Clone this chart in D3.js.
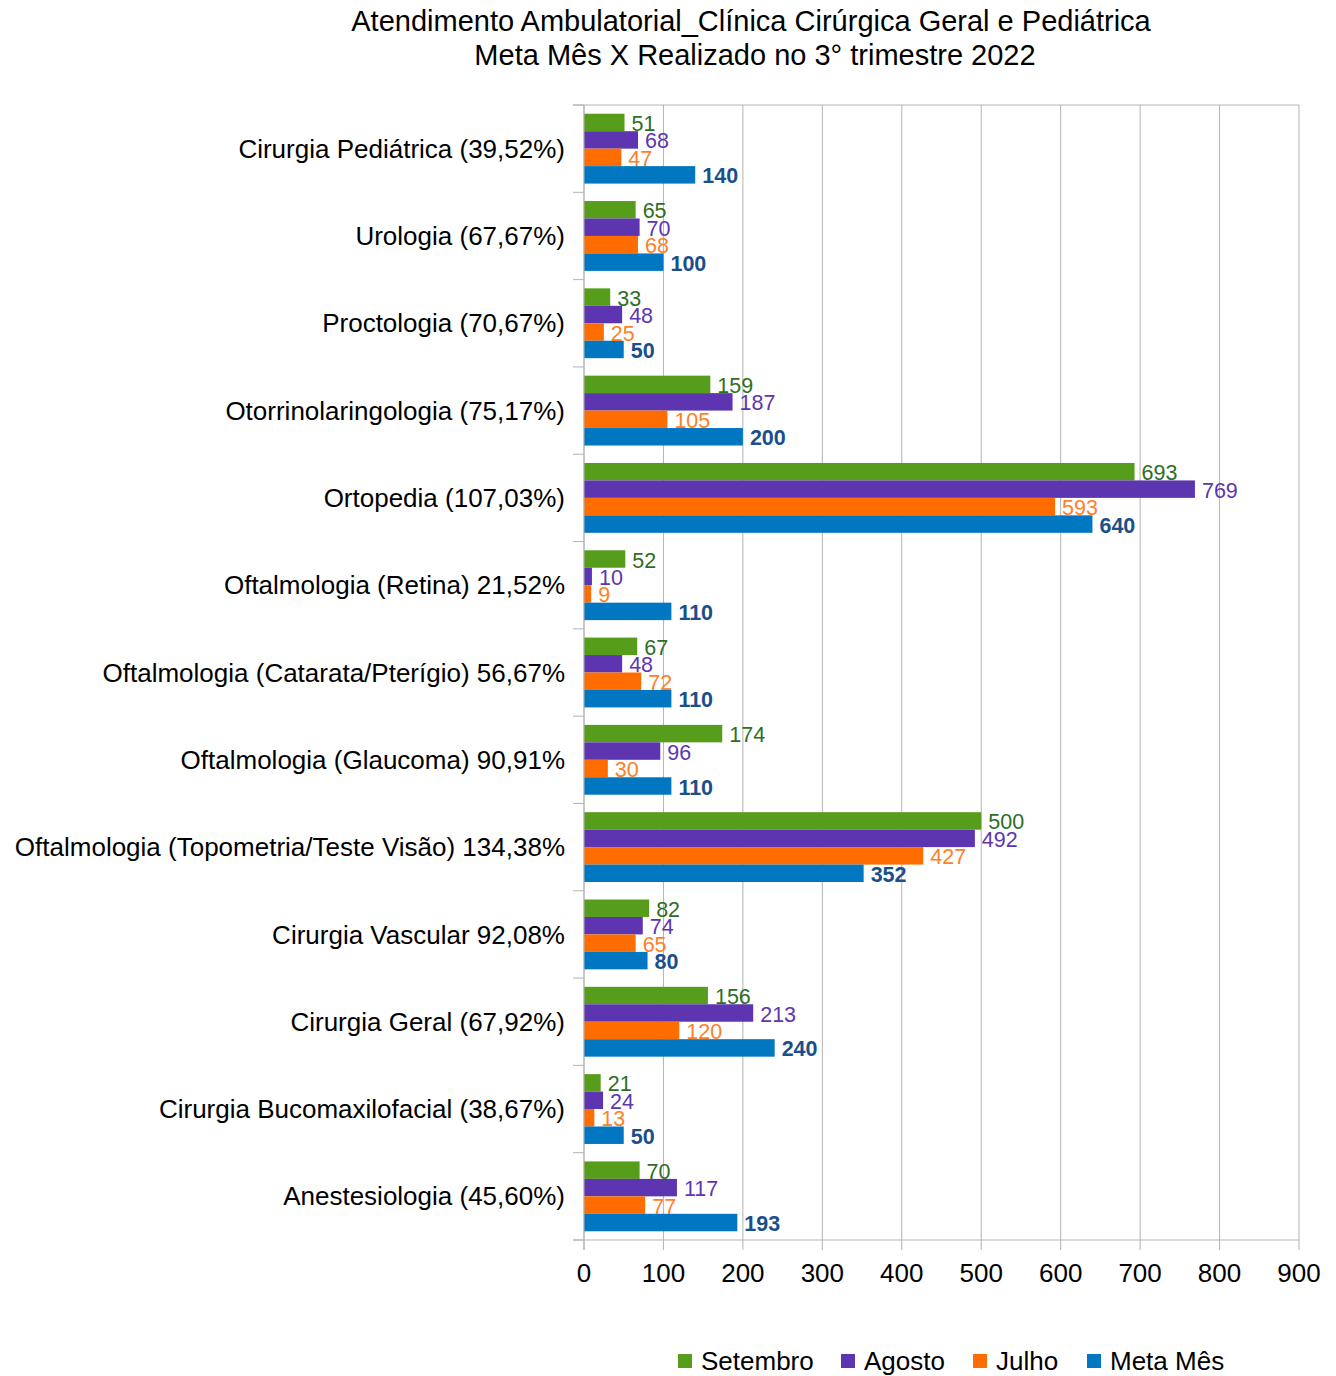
<!DOCTYPE html>
<html>
<head>
<meta charset="utf-8">
<script src="https://cdn.jsdelivr.net/npm/d3@7"></script>
<style>
  body { margin: 0; background: #fff; }
  svg { font-family: "Liberation Sans", Arial, sans-serif; }
</style>
</head>
<body>
<svg id="chart" width="1336" height="1376"></svg>
<script>
// categories top to bottom
const categories = [
  "Cirurgia Pediátrica (39,52%)",
  "Urologia (67,67%)",
  "Proctologia (70,67%)",
  "Otorrinolaringologia (75,17%)",
  "Ortopedia (107,03%)",
  "Oftalmologia (Retina) 21,52%",
  "Oftalmologia (Catarata/Pterígio) 56,67%",
  "Oftalmologia (Glaucoma) 90,91%",
  "Oftalmologia (Topometria/Teste Visão) 134,38%",
  "Cirurgia Vascular 92,08%",
  "Cirurgia Geral (67,92%)",
  "Cirurgia Bucomaxilofacial (38,67%)",
  "Anestesiologia (45,60%)"
];

const setembro = [51, 65, 33, 159, 693, 52, 67, 174, 500, 82, 156, 21, 70];
const agosto   = [68, 70, 48, 187, 769, 10, 48, 96, 492, 74, 213, 24, 117];
const julho    = [47, 68, 25, 105, 593, 9, 72, 30, 427, 65, 120, 13, 77];
const metaMes  = [140, 100, 50, 200, 640, 110, 110, 110, 352, 80, 240, 50, 193];

const seriesNames = ["Setembro", "Agosto", "Julho", "Meta Mês"];
const xTicks = [0, 100, 200, 300, 400, 500, 600, 700, 800, 900];

const barColors = ["#579d1c", "#5e35b1", "#ff6d00", "#0077c0"];
const labelColors = ["#2e6e22", "#5e35b1", "#ff7f27", "#1a4f8a"];

const seriesData = [setembro, agosto, julho, metaMes];

const margin = { top: 105, right: 37, bottom: 136, left: 584 };
const width = 1336 - margin.left - margin.right;
const height = 1376 - margin.top - margin.bottom;

const svg = d3.select("#chart");
const g = svg.append("g").attr("transform", `translate(${margin.left}, ${margin.top})`);

const x = d3.scaleLinear().domain([0, 900]).range([0, width]);
const y = d3.scaleBand().domain(categories).range([0, height]).paddingInner(0.2).paddingOuter(0.1);
const ySub = d3.scaleBand().domain(seriesNames).range([0, y.bandwidth()]);

// gridlines
g.append("g")
  .selectAll("line")
  .data(xTicks)
  .join("line")
  .attr("x1", (d) => x(d))
  .attr("x2", (d) => x(d))
  .attr("y1", 0)
  .attr("y2", height + 10)
  .attr("stroke", "#b3b3b3")
  .attr("stroke-width", 1);

// top and bottom frame lines
[0, height].forEach((yy) => {
  g.append("line")
    .attr("x1", -11).attr("x2", width)
    .attr("y1", yy).attr("y2", yy)
    .attr("stroke", "#b3b3b3");
});

// category ticks (band boundaries)
const step = height / categories.length;
g.append("g")
  .selectAll("line")
  .data(d3.range(categories.length + 1))
  .join("line")
  .attr("x1", -11).attr("x2", 0)
  .attr("y1", (i) => i * step)
  .attr("y2", (i) => i * step)
  .attr("stroke", "#b3b3b3");

// category labels
g.append("g")
  .selectAll("text")
  .data(categories)
  .join("text")
  .attr("x", -19)
  .attr("y", (d, i) => i * step + step / 2)
  .attr("dy", "0.35em")
  .attr("text-anchor", "end")
  .attr("font-size", 26)
  .attr("fill", "#000")
  .text((d) => d);

// x tick labels
g.append("g")
  .selectAll("text")
  .data(xTicks)
  .join("text")
  .attr("x", (d) => x(d))
  .attr("y", height + 42)
  .attr("text-anchor", "middle")
  .attr("font-size", 26)
  .attr("fill", "#000")
  .text((d) => d);

// bars
const groups = g.append("g")
  .selectAll("g")
  .data(categories)
  .join("g")
  .attr("transform", (d) => `translate(0, ${y(d)})`);

seriesNames.forEach((s, si) => {
  groups.append("rect")
    .attr("x", 0)
    .attr("y", ySub(s))
    .attr("width", (d, i) => x(seriesData[si][i]))
    .attr("height", ySub.bandwidth())
    .attr("fill", barColors[si]);
});

// value labels
seriesNames.forEach((s, si) => {
  groups.append("text")
    .attr("x", (d, i) => x(seriesData[si][i]) + 7)
    .attr("y", ySub(s) + ySub.bandwidth() / 2 + 1)
    .attr("dy", "0.35em")
    .attr("font-size", 21.5)
    .attr("font-weight", si === 3 ? "bold" : "normal")
    .attr("fill", labelColors[si])
    .text((d, i) => seriesData[si][i]);
});

// vertical axis line
g.append("line")
  .attr("x1", 0).attr("x2", 0)
  .attr("y1", 0).attr("y2", height + 10)
  .attr("stroke", "#b3b3b3");

// title
svg.append("text")
  .attr("x", 751).attr("y", 31)
  .attr("text-anchor", "middle")
  .attr("font-size", 29)
  .text("Atendimento Ambulatorial_Clínica Cirúrgica Geral e Pediátrica");
svg.append("text")
  .attr("x", 755).attr("y", 65)
  .attr("text-anchor", "middle")
  .attr("font-size", 29)
  .text("Meta Mês X Realizado no 3° trimestre 2022");

// legend
const legendX = [678, 841, 973, 1087];
const legend = svg.append("g")
  .selectAll("g")
  .data(seriesNames)
  .join("g")
  .attr("transform", (d, i) => `translate(${legendX[i]}, 1354)`);
legend.append("rect")
  .attr("width", 14).attr("height", 14)
  .attr("fill", (d, i) => barColors[i]);
legend.append("text")
  .attr("x", 23).attr("y", 7)
  .attr("dy", "0.35em")
  .attr("font-size", 26)
  .text((d) => d);
</script>
</body>
</html>
